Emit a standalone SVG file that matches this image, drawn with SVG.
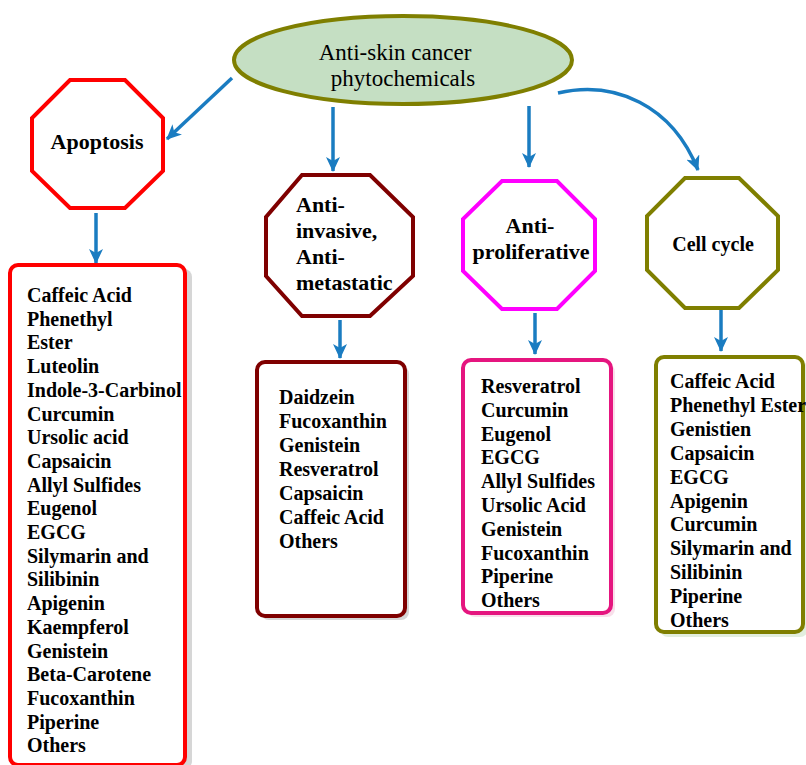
<svg xmlns="http://www.w3.org/2000/svg" width="806" height="765" viewBox="0 0 806 765">
<style>
.lbl{font-family:"Liberation Serif",serif;font-weight:bold;font-size:22px;fill:#000}
.lst{font-family:"Liberation Serif",serif;font-weight:bold;font-size:20px;fill:#000}
.oct{fill:#fff;stroke-width:4;stroke-linejoin:miter}
.box{fill:#fff;stroke-width:4}
.sh{fill:#bbb;opacity:0.6}
.con{fill:none;stroke:#1a7cc1;stroke-width:3.5}
</style>
<defs>
<marker id="ah" markerUnits="userSpaceOnUse" markerWidth="16" markerHeight="14" refX="14" refY="7" orient="auto">
<path d="M0,0 L15,7 L0,14 L4,7 z" fill="#1a7cc1"/>
</marker>
</defs>
<rect width="806" height="765" fill="#fff"/>
<g id="connectors">
<line class="con" x1="232" y1="78" x2="167" y2="139" marker-end="url(#ah)"/>
<line class="con" x1="333" y1="107" x2="333" y2="171" marker-end="url(#ah)"/>
<line class="con" x1="529" y1="106" x2="529" y2="167" marker-end="url(#ah)"/>
<path class="con" d="M558,93 C615,80 672,105 698,170" marker-end="url(#ah)"/>
<line class="con" x1="96" y1="213" x2="96" y2="263" marker-end="url(#ah)"/>
<line class="con" x1="340" y1="320" x2="340" y2="358" marker-end="url(#ah)"/>
<line class="con" x1="535" y1="313" x2="535" y2="354" marker-end="url(#ah)"/>
<line class="con" x1="721" y1="310" x2="721" y2="351" marker-end="url(#ah)"/>
</g>
<g id="root">
<ellipse cx="403" cy="60" rx="169" ry="44" fill="#c5dfc3" stroke="#7f7f00" stroke-width="4"/>
<text x="395" y="60" text-anchor="middle" font-family="Liberation Serif, serif" font-size="23">Anti-skin cancer</text>
<text x="403" y="86" text-anchor="middle" font-family="Liberation Serif, serif" font-size="23">phytochemicals</text>
</g>
<g id="apoptosis">
<polygon class="oct" stroke="#ff0000" points="70,80 125,80 163,118 163,171 125,208 70,208 32,171 32,118"/>
<text class="lbl" x="97" y="149" text-anchor="middle">Apoptosis</text>
</g>
<g id="anti-invasive">
<polygon class="oct" stroke="#7f0000" points="302,175 370,175 413,217 413,276 370,316 302,316 266,276 266,217"/>
<text class="lbl" x="296" y="212">Anti-</text>
<text class="lbl" x="296" y="238">invasive,</text>
<text class="lbl" x="296" y="264">Anti-</text>
<text class="lbl" x="296" y="290">metastatic</text>
</g>
<g id="anti-proliferative">
<polygon class="oct" stroke="#ff00ff" points="502,181 557,181 595,219 595,271 557,309 502,309 463,271 463,219"/>
<text class="lbl" x="530" y="233" text-anchor="middle">Anti-</text>
<text class="lbl" x="531" y="259" text-anchor="middle">proliferative</text>
</g>
<g id="cell-cycle">
<polygon class="oct" stroke="#7f7f00" points="685,178 739,178 778,216 778,270 739,308 685,308 647,270 647,216"/>
<text class="lbl" x="713" y="251" text-anchor="middle" style="font-size:20px">Cell cycle</text>
</g>
<g id="apoptosis-list">
<rect class="sh" x="14" y="269" width="178" height="500" rx="8"/>
<rect class="box" x="10" y="265" width="175" height="500" rx="8" stroke="#ff0000"/>
<text class="lst" x="27" y="302">Caffeic Acid</text>
<text class="lst" x="27" y="325.7">Phenethyl</text>
<text class="lst" x="27" y="349.4">Ester</text>
<text class="lst" x="27" y="373.1">Luteolin</text>
<text class="lst" x="27" y="396.8">Indole-3-Carbinol</text>
<text class="lst" x="27" y="420.5">Curcumin</text>
<text class="lst" x="27" y="444.2">Ursolic acid</text>
<text class="lst" x="27" y="467.9">Capsaicin</text>
<text class="lst" x="27" y="491.6">Allyl Sulfides</text>
<text class="lst" x="27" y="515.3">Eugenol</text>
<text class="lst" x="27" y="539">EGCG</text>
<text class="lst" x="27" y="562.7">Silymarin and</text>
<text class="lst" x="27" y="586.4">Silibinin</text>
<text class="lst" x="27" y="610.1">Apigenin</text>
<text class="lst" x="27" y="633.8">Kaempferol</text>
<text class="lst" x="27" y="657.5">Genistein</text>
<text class="lst" x="27" y="681.2">Beta-Carotene</text>
<text class="lst" x="27" y="704.9">Fucoxanthin</text>
<text class="lst" x="27" y="728.6">Piperine</text>
<text class="lst" x="27" y="752.3">Others</text>
</g>
<g id="anti-invasive-list">
<rect class="sh" x="261" y="366" width="148" height="254" rx="8"/>
<rect class="box" x="257" y="362" width="148" height="254" rx="8" stroke="#7f0000"/>
<text class="lst" x="279" y="404">Daidzein</text>
<text class="lst" x="279" y="428">Fucoxanthin</text>
<text class="lst" x="279" y="452">Genistein</text>
<text class="lst" x="279" y="476">Resveratrol</text>
<text class="lst" x="279" y="500">Capsaicin</text>
<text class="lst" x="279" y="524">Caffeic Acid</text>
<text class="lst" x="279" y="548">Others</text>
</g>
<g id="anti-proliferative-list">
<rect class="sh" x="467" y="364" width="148" height="253" rx="8" style="fill:#f3c9dc"/>
<rect class="box" x="463" y="360" width="148" height="253" rx="8" stroke="#e5157f"/>
<text class="lst" x="481" y="393">Resveratrol</text>
<text class="lst" x="481" y="417">Curcumin</text>
<text class="lst" x="481" y="441">Eugenol</text>
<text class="lst" x="481" y="464">EGCG</text>
<text class="lst" x="481" y="488">Allyl Sulfides</text>
<text class="lst" x="481" y="512">Ursolic Acid</text>
<text class="lst" x="481" y="536">Genistein</text>
<text class="lst" x="481" y="560">Fucoxanthin</text>
<text class="lst" x="481" y="583">Piperine</text>
<text class="lst" x="481" y="607">Others</text>
</g>
<g id="cell-cycle-list">
<rect class="sh" x="660" y="361" width="148" height="276" rx="8" style="fill:#cfe3c8"/>
<rect class="box" x="656" y="357" width="147" height="275" rx="8" stroke="#7f7f00"/>
<text class="lst" x="670" y="388">Caffeic Acid</text>
<text class="lst" x="670" y="412">Phenethyl Ester</text>
<text class="lst" x="670" y="436">Genistien</text>
<text class="lst" x="670" y="460">Capsaicin</text>
<text class="lst" x="670" y="484">EGCG</text>
<text class="lst" x="670" y="508">Apigenin</text>
<text class="lst" x="670" y="531">Curcumin</text>
<text class="lst" x="670" y="555">Silymarin and</text>
<text class="lst" x="670" y="579">Silibinin</text>
<text class="lst" x="670" y="603">Piperine</text>
<text class="lst" x="670" y="627">Others</text>
</g>
</svg>
